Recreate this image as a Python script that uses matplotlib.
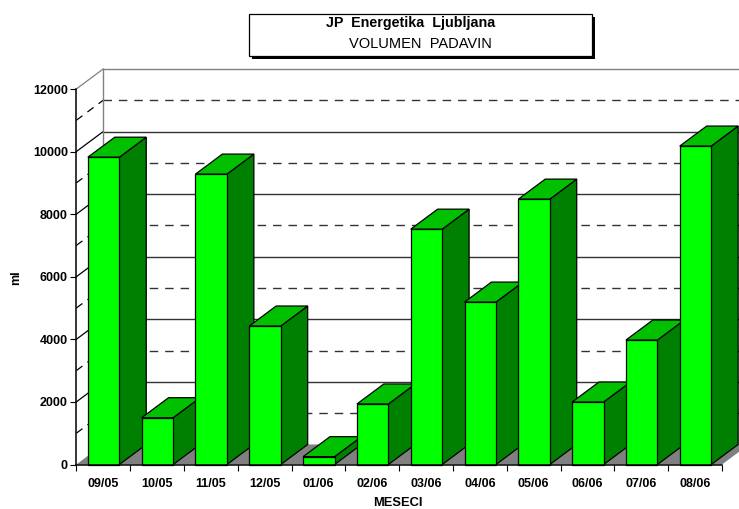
#!/usr/bin/env python3
"""Pseudo-3D column chart of monthly precipitation volume."""

import matplotlib
matplotlib.use("Agg")
import matplotlib.pyplot as plt
from matplotlib.patches import Polygon, Rectangle

months = ["09/05", "10/05", "11/05", "12/05", "01/06", "02/06",
          "03/06", "04/06", "05/06", "06/06", "07/06", "08/06"]
volume = [9820, 1495, 9280, 4425, 250, 1933, 7520, 5190, 8480, 1997, 3977, 10176]
y_ticks = [0, 2000, 4000, 6000, 8000, 10000, 12000]
y_minor = [1000, 3000, 5000, 7000, 9000, 11000]

W, H = 739, 509
DX = 0.5      # depth in categories
DY = 640      # depth in ml
BAR_L = 0.215
BAR_W = 0.585
DASH = (0, (6.1, 5))

plt.rcParams["font.family"] = ["Liberation Sans", "DejaVu Sans"]

fig = plt.figure(figsize=(W / 100, H / 100), dpi=100)
ax = fig.add_axes([76.3 / W, 1 - 464.5 / H, (722.0 - 76.3) / W, (464.5 - 89) / H])
ax.set_xlim(0, 12)
ax.set_ylim(0, 12000)
n = len(months)

# back wall grid and side wall diagonals
for v in y_ticks[1:] + y_minor:
    major = v in y_ticks
    ls = "-" if major else DASH
    col = "#808080" if v == 12000 else "#333333"
    ax.plot([DX, n + DX], [v + DY, v + DY], color=col, lw=1, ls=ls, clip_on=False, zorder=1)
    ax.plot([0, DX], [v, v + DY], color=col if v == 12000 else "black", lw=0.9, ls=ls,
            clip_on=False, zorder=1)
ax.plot([DX, DX], [DY, 12000 + DY], color="#808080", lw=1, clip_on=False, zorder=1)

# floor
ax.add_patch(Polygon([(0, 0), (DX, DY), (n + DX, DY), (n, 0)], closed=True, fc="#808080",
                     ec="none", clip_on=False, zorder=2))

# bars, left to right so later ones cover earlier side faces
for i, v in enumerate(volume):
    x0 = i + BAR_L
    x1 = x0 + BAR_W
    z = 3 + i
    ax.add_patch(Polygon([(x1, 0), (x1 + DX, DY), (x1 + DX, v + DY), (x1, v)], closed=True,
                         fc="#008000", ec="black", lw=0.9, clip_on=False, zorder=z))
    ax.add_patch(Polygon([(x0, v), (x0 + DX, v + DY), (x1 + DX, v + DY), (x1, v)], closed=True,
                         fc="#00c000", ec="black", lw=0.9, clip_on=False, zorder=z))
    ax.add_patch(Rectangle((x0, 0), BAR_W, v, fc="#00ff00", ec="black", lw=0.9,
                           clip_on=False, zorder=z))

for s in ("top", "right"):
    ax.spines[s].set_visible(False)
for s in ("left", "bottom"):
    ax.spines[s].set_linewidth(1.1)
    ax.spines[s].set_zorder(30)

ax.set_yticks(y_ticks)
ax.set_yticklabels([str(v) for v in y_ticks], fontsize=9, fontweight="bold")
ax.set_xticks(range(n + 1))
ax.set_xticklabels([])
ax.set_xticks([i + 0.5 for i in range(n)], labels=months, minor=True, fontsize=9, fontweight="bold")
ax.tick_params(axis="x", which="major", length=4.6, width=0.8, direction="out")
ax.tick_params(axis="x", which="minor", length=0, pad=9.5)
ax.tick_params(axis="y", length=4.3, width=0.8, pad=1.8)

fig.text(16 / W, 1 - 278 / H, "ml", rotation=90, ha="center", va="center",
         fontsize=9, fontweight="bold")
fig.text(398 / W, 1 - 503 / H, "MESECI", ha="center", va="center",
         fontsize=9.3, fontweight="bold")

# title box with drop shadow
fig.add_artist(Rectangle((252 / W, 1 - 59 / H), 343 / W, 42 / H, transform=fig.transFigure,
                         fc="black", ec="none"))
fig.add_artist(Rectangle((249 / W, 1 - 56 / H), 343 / W, 42 / H, transform=fig.transFigure,
                         fc="white", ec="black", lw=0.9))
fig.text(411 / W, 1 - 22.5 / H, "JP  Energetika  Ljubljana", ha="center", va="center",
         fontsize=10.3, fontweight="bold")
fig.text(420 / W, 1 - 44.5 / H, "VOLUMEN  PADAVIN", ha="center", va="center", fontsize=10.5)

fig.savefig("out.png", dpi=100)
